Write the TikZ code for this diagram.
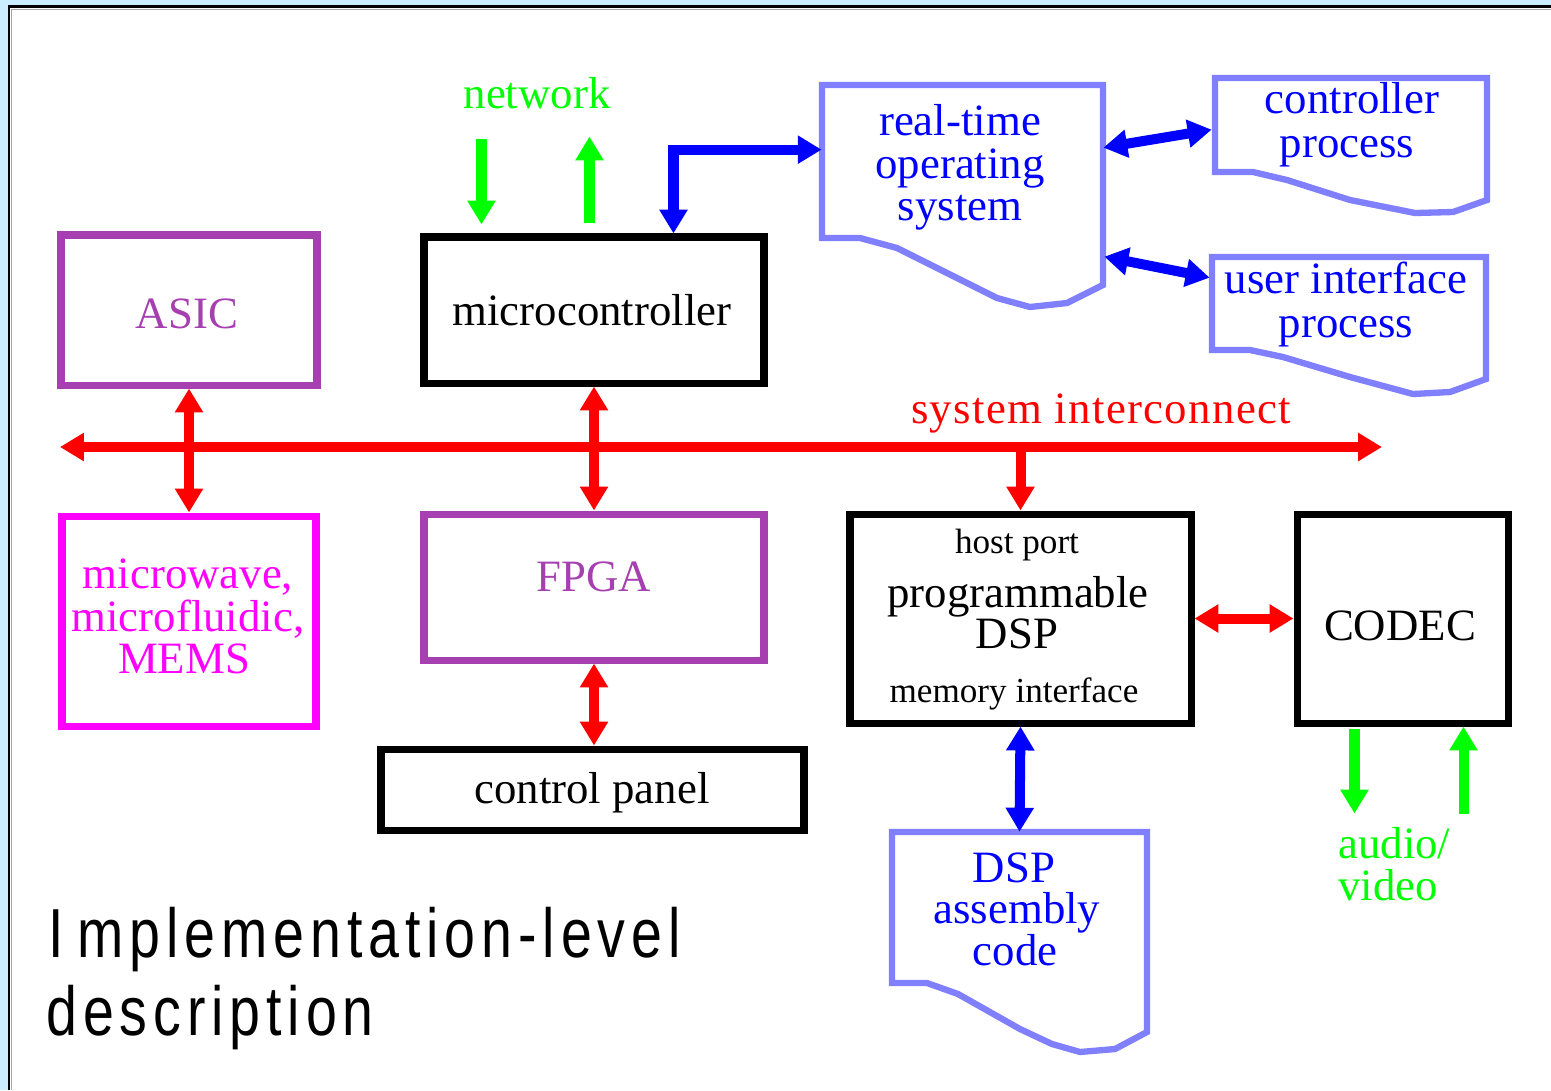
\documentclass[tikz,border=0pt]{standalone}
\usepackage{fontspec}
\setmainfont{Liberation Serif}
\newfontfamily\headfont[FakeStretch=0.8,LetterSpace=8.5]{Liberation Sans}
\usetikzlibrary{arrows.meta,fit,calc}

\definecolor{panelbg}{RGB}{204,236,255}
\definecolor{chipviolet}{RGB}{166,64,176}
\definecolor{mems}{RGB}{255,0,255}
\definecolor{docline}{RGB}{128,128,255}
\definecolor{sigblue}{RGB}{0,0,255}
\definecolor{busred}{RGB}{255,0,0}
\definecolor{iogreen}{RGB}{0,255,0}

\tikzset{
  box/.style={draw, line width=4pt, inner sep=0pt},
  frame/.style={inner sep=0pt},
  doc/.style={draw=docline, line width=3.6pt, line join=miter},
  lbl/.style={font=\fontsize{25.5}{24}\selectfont, anchor=base, inner sep=0pt},
  small/.style={font=\fontsize{20}{22}\selectfont, anchor=base, inner sep=0pt},
  head/.style={font=\headfont\fontsize{39.5}{44}\selectfont, anchor=base west, inner sep=0pt},
  tip/.tip={Triangle[length=13.6pt,width=15.3pt]},
  link/.style={line width=5.7pt, -tip},
  dlink/.style={line width=5.7pt, tip-tip, line join=miter},
}

\begin{document}
\begin{tikzpicture}[x=0.02cm,y=-0.02cm]
\useasboundingbox (0,0) rectangle (1551,1090);

% slide panel
\fill[panelbg] (0,0) rectangle (1551,1090);
\fill[white] (9,7) rectangle (1551,1090);
\draw[line width=1.7pt] (9,1090) -- (9,6.5) -- (1551,6.5);
\draw[black!35, line width=0.6pt] (11.6,1090) -- (11.6,9.2) -- (1551,9.2);

% hardware blocks
\node[box, draw=chipviolet, fit={(61,235)(317,385)}] (asic) {};
\node[box, fit={(424,237)(764,383)}] (mcu) {};
\node[box, draw=mems, fit={(62,516)(316,726)}] (memsbox) {};
\node[box, draw=chipviolet, fit={(424,514)(764,660)}] (fpga) {};
\node[box, fit={(381,749)(804,830)}] (panel) {};
\node[box, fit={(850,514)(1191,723)}] (dsp) {};
\node[box, fit={(1297,514)(1508,723)}] (codec) {};

% software documents
\node[frame, fit={(822,85)(1103,238)}] (rtos) {};
\draw[doc] (822,85) -- (1103,85) -- (1103,285) -- (1067,303) -- (1030,307)
  -- (997,298) -- (967,283) -- (897,248) -- (860,238) -- (822,238) -- cycle;
\node[frame, fit={(1215,78)(1487,172)}] (ctrl) {};
\draw[doc] (1215,78) -- (1487,78) -- (1487,200) -- (1453,212) -- (1415,213)
  -- (1350,200) -- (1287,180) -- (1253,172) -- (1215,172) -- cycle;
\node[frame, fit={(1212,257)(1486,350)}] (ui) {};
\draw[doc] (1212,257) -- (1486,257) -- (1486,379) -- (1450,392) -- (1413,394)
  -- (1350,377) -- (1283,357) -- (1250,350) -- (1212,350) -- cycle;
\node[frame, fit={(892,832)(1147,983)}] (code) {};
\draw[doc] (892,832) -- (1147,832) -- (1147,1032) -- (1115,1049) -- (1080,1052)
  -- (1052,1044) -- (1020,1029) -- (958,994) -- (927,983) -- (892,983) -- cycle;

% block labels
\node[lbl, text=chipviolet] (asicT) at (187,328) {ASIC};
\node[lbl] (mcuT) at (592,325) {microcontroller};
\node[lbl, text=mems] (memsA) at (188,588) {microwave,};
\node[lbl, text=mems] (memsB) at (188,631) {microfluidic,};
\node[lbl, text=mems] (memsC) at (184,673) {MEMS};
\node[lbl, text=chipviolet] (fpgaT) at (594,591) {FPGA};
\node[lbl] (panelT) at (592,803) {control panel};
\node[small] (hostT) at (1017,553) {host port};
\node[lbl] (dspA) at (1018,607) {programmable};
\node[lbl] (dspB) at (1017,648) {DSP};
\node[small] (memT) at (1014,702) {memory interface};
\node[lbl] (codecT) at (1400,640) {CODEC};

% document labels
\node[lbl, text=sigblue] (rtosA) at (960,135) {real-time};
\node[lbl, text=sigblue] (rtosB) at (960,178) {operating};
\node[lbl, text=sigblue] (rtosC) at (960,220) {system};
\node[lbl, text=sigblue] (ctrlA) at (1352,113) {controller};
\node[lbl, text=sigblue] (ctrlB) at (1347,157) {process};
\node[lbl, text=sigblue] (uiA) at (1346,293) {user interface};
\node[lbl, text=sigblue] (uiB) at (1346,337) {process};
\node[lbl, text=sigblue] (codeA) at (1014,882) {DSP};
\node[lbl, text=sigblue] (codeB) at (1017,923) {assembly};
\node[lbl, text=sigblue] (codeC) at (1015,965) {code};

% other labels
\node[lbl, text=iogreen] (netT) at (537,108) {network};
\node[lbl, text=busred, font=\addfontfeature{LetterSpace=3}\fontsize{25.5}{24}\selectfont] (busT) at (1101,423) {system interconnect};
\node[lbl, text=iogreen, anchor=base west] (avA) at (1338,858) {audio/};
\node[lbl, text=iogreen, anchor=base west] (avB) at (1338,900) {video};
\node[head] (headA) at (48,957) {I\hspace{0.2em}mplementation-level};
\node[head] (headB) at (46,1035) {description};

% system interconnect
\coordinate (busW) at (60,447);
\coordinate (busE) at (1382,447);
\draw[dlink, busred] (busW) -- (busE);
\draw[dlink, busred] (asic.south) -- (memsbox.north);
\draw[dlink, busred] (mcu.south) -- (fpga.north);
\draw[link, busred] (dsp.north |- busW) -- (dsp.north);
\draw[dlink, busred] (fpga.south) -- (fpga.south |- panel.north);
\draw[dlink, busred] (dsp.east) -- (codec.west);

% software links
\draw[dlink, sigblue] ($(mcu.north west)+(253,0)$) |- ($(rtos.north west)+(0,65)$);
\draw[dlink, sigblue] ($(rtos.north east)+(0,63)$) -- ($(ctrl.north west)+(-3,52)$);
\draw[dlink, sigblue] ($(rtos.north east)+(1,172)$) -- ($(ui.north west)+(-2,21)$);
\draw[dlink, sigblue] (dsp.south) -- (code.north);

% external I/O
\draw[link, iogreen] ($(mcu.north west)+(61,-94)$) -- ($(mcu.north west)+(61,-9)$);
\draw[link, iogreen] ($(mcu.north west)+(169,-10)$) -- ($(mcu.north west)+(169,-97)$);
\draw[link, iogreen] ($(codec.south west)+(61,2)$) -- ($(codec.south west)+(61,87)$);
\draw[link, iogreen] ($(codec.south west)+(170,87)$) -- ($(codec.south west)+(170,0)$);
\end{tikzpicture}
\end{document}
